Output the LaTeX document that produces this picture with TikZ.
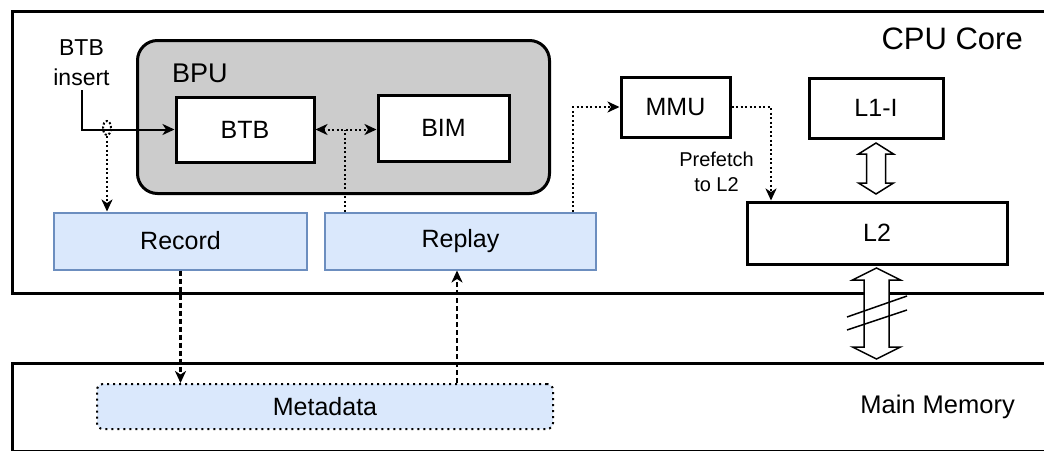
\documentclass[tikz,border=0pt]{standalone}
\usepackage{fontspec}
\setmainfont{Liberation Sans}
\usetikzlibrary{arrows.meta,shapes.geometric,calc}
\definecolor{blueFill}{HTML}{DAE8FC}
\definecolor{blueLine}{HTML}{6C8EBF}
\definecolor{bpuGray}{HTML}{CCCCCC}
\newcommand{\fsz}[2]{\fontsize{#1}{#2}\selectfont}
\begin{document}
\begin{tikzpicture}[x=1pt,y=-1pt,
  >={Stealth[length=12pt,width=11pt,inset=3.5pt]},
  blk/.style={draw, line width=3pt, fill=white, inner sep=0pt, font=\fsz{25}{30}},
  bluebox/.style={draw=blueLine, fill=blueFill, line width=2pt, inner sep=0pt, font=\fsz{25}{30}},
  lbl/.style={inner sep=0pt},
  dotline/.style={line width=2pt, dash pattern=on 2pt off 2.5pt},
  dashline/.style={line width=2.5pt, dash pattern=on 5pt off 3pt},
  hollow/.style={draw, line width=1.5pt, fill=white, line join=miter}]
\useasboundingbox (0,0) rectangle (1044,450);
\clip (0,0) rectangle (1044,450);

% outer regions
\node[draw, line width=3pt, minimum width=1049pt, minimum height=282pt, anchor=north west] (cpu) at (11,10) {};
\node[draw, line width=3pt, minimum width=1049pt, minimum height=88pt, anchor=north west] (mem) at (11,362) {};
\node[lbl, anchor=base east, font=\fsz{31}{36}] (cpulbl) at (1023,49) {CPU Core};
\node[lbl, anchor=base east, font=\fsz{25.5}{30}] (memlbl) at (1015,413) {Main Memory};

% branch prediction unit
\node[draw, line width=3pt, fill=bpuGray, rounded corners=20pt, minimum width=412pt, minimum height=153pt, anchor=north west] (bpu) at (136,39) {};
\node[lbl, anchor=base west, font=\fsz{27}{32}] (bpulbl) at (172,82) {BPU};
\node[blk, minimum width=138pt, minimum height=65pt] (btb) at (245,129.5) {BTB};
\node[blk, minimum width=131pt, minimum height=66pt] (bim) at (443.5,128) {BIM};

% record / replay engines
\node[bluebox, minimum width=253pt, minimum height=57pt] (rec) at (180.5,241) {Record};
\node[bluebox, minimum width=271pt, minimum height=57pt] (rep) at (460.5,241) {Replay};
\node[draw, line width=2pt, dash pattern=on 2pt off 4pt, fill=blueFill, rounded corners=6pt, inner sep=0pt, font=\fsz{25}{30}, minimum width=456pt, minimum height=45pt] (meta) at (325,406.5) {Metadata};

% memory hierarchy
\node[blk, minimum width=109pt, minimum height=60pt] (mmu) at (675.5,107) {MMU};
\node[blk, minimum width=134pt, minimum height=60pt] (l1i) at (876,108) {L1-I};
\node[blk, minimum width=260pt, minimum height=62pt] (l2) at (877,233) {L2};

% BTB insert path
\node[lbl, align=center, anchor=north, font=\fsz{23}{30}] (bi) at (81.5,39) {BTB\\insert};
\draw[line width=2pt, ->] ([yshift=-5pt]bi.south) |- (btb.west -| bi.south) -- (btb.west);
\node[ellipse, draw, line width=2pt, dash pattern=on 2pt off 2pt, minimum width=8pt, minimum height=14pt, inner sep=0pt] (jn) at (107,128) {};
\draw[dotline, ->] (jn.south) -- (jn.south |- rec.north);

% BTB <-> BIM and replay feed
\coordinate (j1) at (345,129.5);
\draw[dotline, <->] (btb.east) -- (btb.east -| bim.west);
\draw[dotline] (rep.north -| j1) -- (j1);

% replay -> MMU -> L2
\coordinate (j2) at (573,107);
\draw[dotline, ->] (rep.north -| j2) -- (j2) -- (mmu.west);
\coordinate (j3) at (771,0);
\draw[dotline, ->] (mmu.east) -| (l2.north -| j3);
\node[lbl, align=center, anchor=north, font=\fsz{20}{25}] (pf) at (716.5,151.5) {Prefetch\\to L2};

% record/replay <-> metadata
\coordinate (j4) at (457,0);
\draw[dashline, ->] (rec.south) -- (rec.south |- meta.north);
\draw[dashline, ->] (meta.north -| j4) -- (rep.south -| j4);

% L1-I <-> L2 link
\draw[hollow] (876,143) -- (893.5,154) -- (885.5,154) -- (885.5,183) -- (893.5,183)
  -- (876,194) -- (858.5,183) -- (866.5,183) -- (866.5,154) -- (858.5,154) -- cycle;

% L2 <-> main memory link with break
\draw[hollow] (876.5,268) -- (900.5,280) -- (889,280) -- (889,347) -- (900.5,347)
  -- (876.5,359) -- (852.5,347) -- (864,347) -- (864,280) -- (852.5,280) -- cycle;
\draw[line width=1.5pt] (847,317) -- (907,296);
\draw[line width=1.5pt] (847,330) -- (907,310);
\end{tikzpicture}
\end{document}
